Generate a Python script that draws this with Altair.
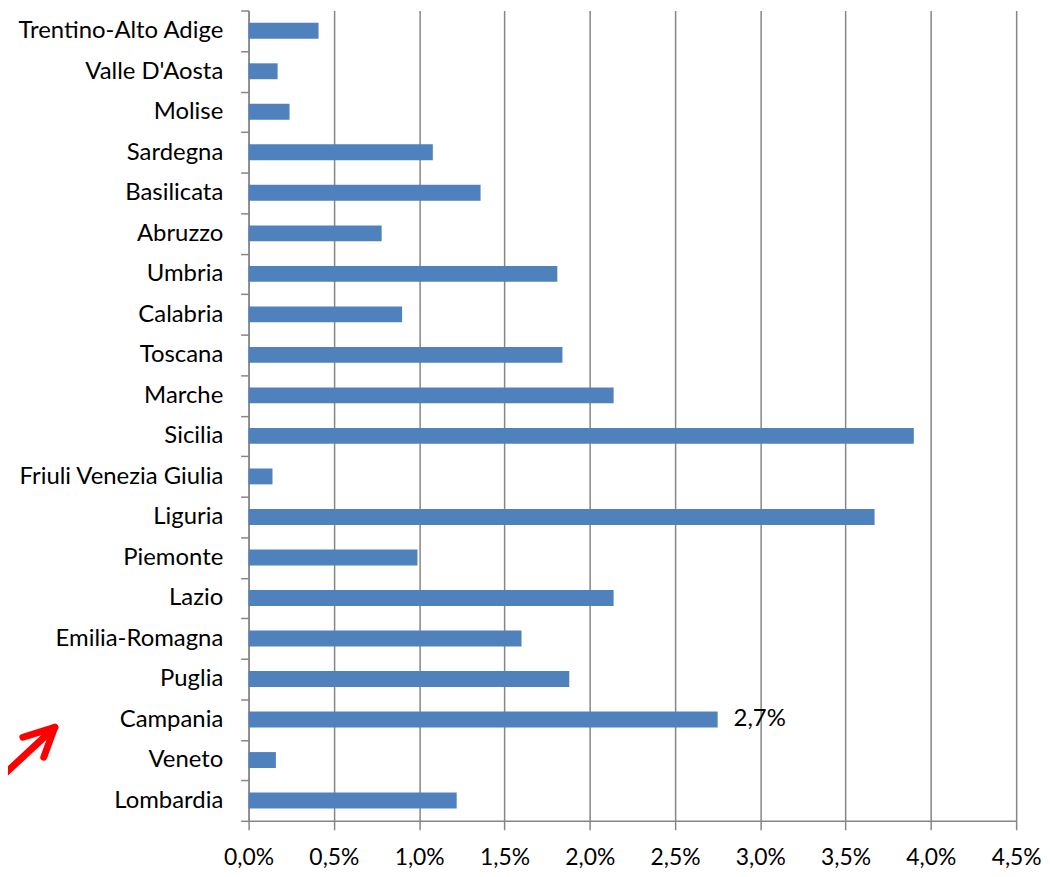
import altair as alt
import pandas as pd

regions = ["Trentino-Alto Adige", "Valle D'Aosta", "Molise", "Sardegna", "Basilicata",
           "Abruzzo", "Umbria", "Calabria", "Toscana", "Marche", "Sicilia",
           "Friuli Venezia Giulia", "Liguria", "Piemonte", "Lazio", "Emilia-Romagna",
           "Puglia", "Campania", "Veneto", "Lombardia"]
values = [0.41, 0.17, 0.24, 1.08, 1.36, 0.78, 1.81, 0.90, 1.84, 2.14, 3.90,
          0.14, 3.67, 0.99, 2.14, 1.60, 1.88, 2.75, 0.16, 1.22]
labels = ["", "", "", "", "", "", "", "", "", "", "", "", "", "", "", "", "", "2,7%", "", ""]
x_ticks = [0, 0.5, 1.0, 1.5, 2.0, 2.5, 3.0, 3.5, 4.0, 4.5]

df = pd.DataFrame({"region": regions, "value": values, "label": labels})

FONT = "Lato"
FS = 24
GRID = "#868686"

x_enc = alt.X("value:Q",
              scale=alt.Scale(domain=[0, 4.5], nice=False),
              axis=alt.Axis(values=x_ticks, title=None,
                            labelExpr="replace(format(datum.value, '.1f'), '.', ',') + '%'",
                            grid=True, gridColor=GRID, gridWidth=1.5,
                            domainColor=GRID, domainWidth=1.5,
                            tickColor=GRID, tickWidth=1.5, tickSize=9,
                            labelPadding=17, labelFontSize=23, labelFont=FONT,
                            labelColor="#000000", labelOverlap=False,
                            labelFlush=False))
y_enc = alt.Y("region:N", sort=regions,
              scale=alt.Scale(paddingInner=0, paddingOuter=0),
              axis=alt.Axis(title=None, tickBand="extent",
                            domainColor=GRID, domainWidth=1.5,
                            tickColor=GRID, tickWidth=1.5, tickSize=8,
                            labelPadding=18, labelFontSize=FS, labelFont=FONT,
                            labelColor="#000000", labelLimit=0))

bars = alt.Chart(df).mark_bar(color="#4F81BD", size=16).encode(x=x_enc, y=y_enc)

text = alt.Chart(df).transform_filter("datum.label != ''").mark_text(
    align="left", baseline="middle", dx=16, fontSize=FS, font=FONT, color="#000000"
).encode(x="value:Q", y=alt.Y("region:N", sort=regions), text="label:N")

one = pd.DataFrame({"a": [0]})
arrow_style = dict(color="#FF0000", strokeWidth=7, strokeCap="round")
shaft = alt.Chart(one).mark_rule(**arrow_style).encode(
    x=alt.value(-252), x2=alt.value(-195), y=alt.value(774), y2=alt.value(721))
wing1 = alt.Chart(one).mark_rule(**arrow_style).encode(
    x=alt.value(-195), x2=alt.value(-227), y=alt.value(721), y2=alt.value(731))
wing2 = alt.Chart(one).mark_rule(**arrow_style).encode(
    x=alt.value(-195), x2=alt.value(-206), y=alt.value(721), y2=alt.value(751))

chart = alt.layer(bars, text, shaft, wing1, wing2).properties(
    width=772, height=815,
    autosize=alt.AutoSizeParams(type="none"),
    padding={"left": 242, "top": 0, "right": 26, "bottom": 52}
).configure_view(stroke=None).configure_axis(labelFont=FONT)

chart.save("out.html", embed_options={"renderer": "svg", "actions": False})
